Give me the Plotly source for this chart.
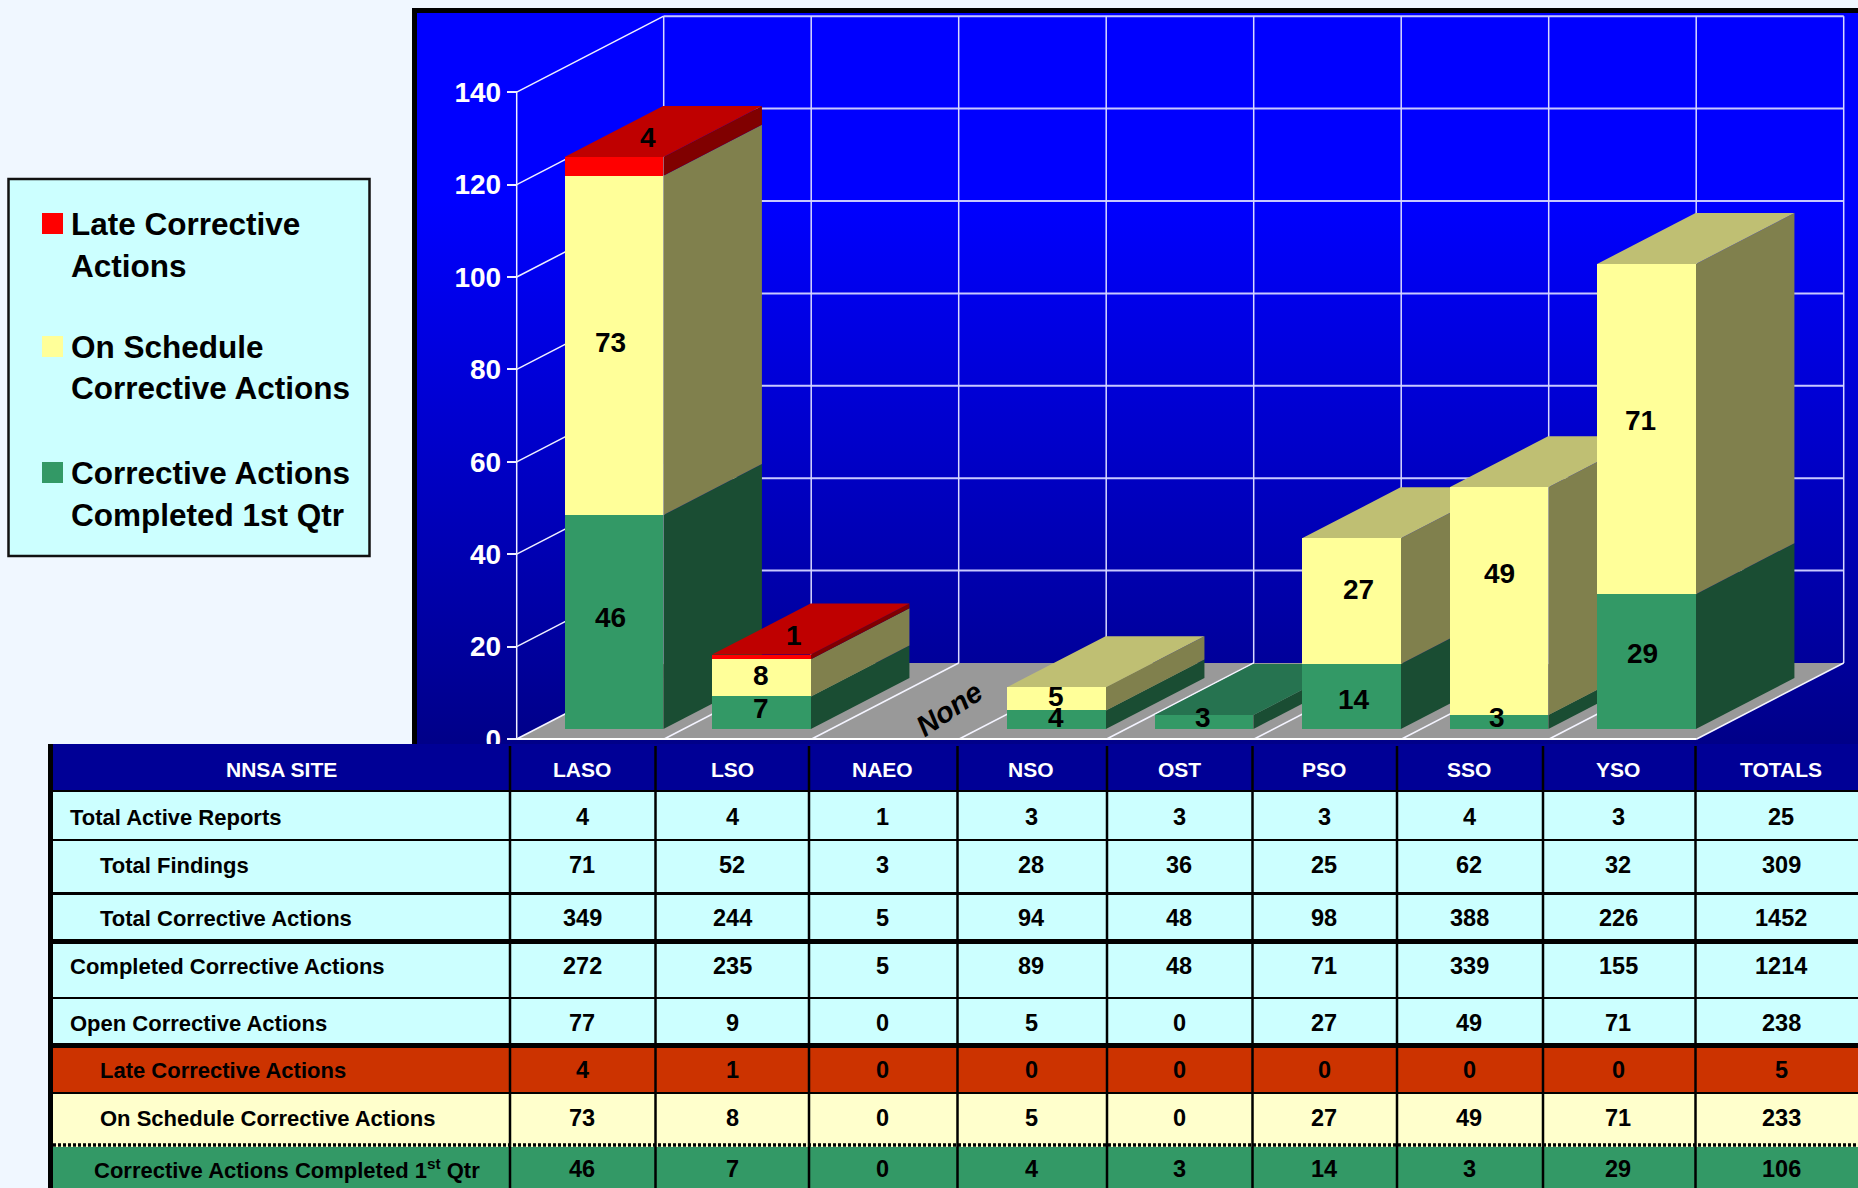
import plotly.graph_objects as go

# ---------- data ----------
SITES = ["LASO", "LSO", "NAEO", "NSO", "OST", "PSO", "SSO", "YSO"]
COMPLETED_Q1 = [46, 7, 0, 4, 3, 14, 3, 29]
ON_SCHEDULE = [73, 8, 0, 5, 0, 27, 49, 71]
LATE = [4, 1, 0, 0, 0, 0, 0, 0]
Y_TICKS = [0, 20, 40, 60, 80, 100, 120, 140]
NO_DATA_LABEL = "None"

TABLE_HEADER = ["NNSA SITE"] + SITES + ["TOTALS"]
ROW_LABELS = [
    "Total Active Reports", "Total Findings", "Total Corrective Actions",
    "Completed Corrective Actions", "Open Corrective Actions",
    "Late Corrective Actions", "On Schedule Corrective Actions",
    "Corrective Actions Completed 1<sup>st</sup> Qtr",
]
ROW_ACTIVE = [4, 4, 1, 3, 3, 3, 4, 3, 25]
ROW_FINDINGS = [71, 52, 3, 28, 36, 25, 62, 32, 309]
ROW_TOTAL_CA = [349, 244, 5, 94, 48, 98, 388, 226, 1452]
ROW_COMPLETED = [272, 235, 5, 89, 48, 71, 339, 155, 1214]
ROW_OPEN = [77, 9, 0, 5, 0, 27, 49, 71, 238]
ROW_LATE = [4, 1, 0, 0, 0, 0, 0, 0, 5]
ROW_ONSCHED = [73, 8, 0, 5, 0, 27, 49, 71, 233]
ROW_Q1 = [46, 7, 0, 4, 3, 14, 3, 29, 106]
LEGEND_LINES = [
    ("Late Corrective", "Actions"),
    ("On Schedule", "Corrective Actions"),
    ("Corrective Actions", "Completed 1st Qtr"),
]

# ---------- page geometry / style ----------
W, H = 1858, 1188
PAGE_BG = "#F0F7FF"
BOLD = "Liberation Sans"
CAT_W = 147.5

# front axis plane (frame)
F_X0, F_Y0, F_S = 590.45, 739.0, 4.62
# plane of the bar fronts
B_X0, B_Y0, B_S = 614.0, 729.0, 4.65
# depth vectors in data units
WALL_DX, WALL_DY = 147.0 / CAT_W, 76.0 / F_S
BAR_DX, BAR_DY = 98.5 / CAT_W, 51.0 / B_S
BAR_W = 0.67

SEG = [  # name, values, front, side, top
    ("Corrective Actions Completed 1st Qtr", COMPLETED_Q1, "#339966", "#1A4D33", "#267350"),
    ("On Schedule Corrective Actions", ON_SCHEDULE, "#FFFF99", "#80804D", "#BFBF73"),
    ("Late Corrective Actions", LATE, "#FF0000", "#800000", "#BF0000"),
]


def xrange_for(x0):
    return [(0 - x0) / CAT_W, (W - x0) / CAT_W]


def yrange_for(y0, s):
    return [(y0 - H) / s, y0 / s]


def fx(px):
    return (px - F_X0) / CAT_W


def fy(py):
    return (F_Y0 - py) / F_S


fig = go.Figure()


def poly(xs, ys, color, xa="x", ya="y", **kw):
    fig.add_trace(go.Scatter(
        x=xs + xs[:1], y=ys + ys[:1], xaxis=xa, yaxis=ya, mode="lines",
        fill="toself", fillcolor=color, line=dict(width=0), hoverinfo="skip",
        showlegend=False, **kw))


def seg_line(xs, ys, color="#D8D8FF", width=1.5):
    fig.add_trace(go.Scatter(
        x=xs, y=ys, mode="lines", line=dict(color=color, width=width),
        hoverinfo="skip", showlegend=False))


# --- blue gradient panel ---
px_l, px_r, py_t, py_b = 417, W, 13, 745
grad_top = 200
frac = (py_b - grad_top) / (py_b - py_t)
poly([fx(px_l), fx(px_r), fx(px_r), fx(px_l)], [fy(py_b), fy(py_b), fy(py_t), fy(py_t)],
     "#0000FF",
     fillgradient=dict(type="vertical",
                       colorscale=[[0, "#000088"], [frac, "#0000FF"], [1, "#0000FF"]]))

# --- floor, walls, grid ---
n = len(SITES)
L, R = -0.5, n - 0.5
vmax = Y_TICKS[-1]
poly([L, R, R + WALL_DX, L + WALL_DX], [0, 0, WALL_DY, WALL_DY], "#999999")
for v in Y_TICKS:
    if v:
        seg_line([L + WALL_DX, R + WALL_DX], [v + WALL_DY, v + WALL_DY], "#C8C8FF", 2)
        seg_line([L, L + WALL_DX], [v, v + WALL_DY], "#F0F0FF", 1.5)
for i in range(n + 1):
    xb = L + i + WALL_DX
    seg_line([xb, xb], [WALL_DY, vmax + WALL_DY], "#D8D8FF", 1.5)
    seg_line([L + i, xb], [0, WALL_DY], "#F4F4FF", 1.5)
seg_line([L, L], [0, vmax], "#F0F0FF", 1.5)
seg_line([L, R], [0, 0], "#FFFFFF", 2)


# --- bar sides and tops (painted left to right) ---
for i in range(n):
    base = 0
    xr = i + BAR_W / 2
    xl = i - BAR_W / 2
    top_colour = None
    for name, vals, front, side, top in SEG:
        v = vals[i]
        if v:
            poly([xr, xr + BAR_DX, xr + BAR_DX, xr],
                 [base, base + BAR_DY, base + v + BAR_DY, base + v],
                 side, xa="x2", ya="y2")
            base += v
            top_colour = top
    if top_colour:
        poly([xl, xr, xr + BAR_DX, xl + BAR_DX],
             [base, base, base + BAR_DY, base + BAR_DY],
             top_colour, xa="x2", ya="y2")

# --- bar fronts ---
for name, vals, front, side, top in SEG:
    fig.add_trace(go.Bar(
        x=SITES, y=vals, name=name, width=BAR_W, xaxis="x3", yaxis="y3",
        marker=dict(color=front, line=dict(width=0)), showlegend=False))

annotations = []
shapes = []


def note(x, y, text, size, color="black", anchor="center", angle=0):
    annotations.append(dict(
        x=x / W, y=1 - y / H, xref="paper", yref="paper", text=text, showarrow=False,
        xanchor=anchor, yanchor="middle", align="left" if anchor == "left" else "center",
        textangle=angle, borderpad=0, borderwidth=0,
        font=dict(family=BOLD, size=size, color=color, weight="bold")))


def box(x0, y0, x1, y1, fill, line=None, lw=0, layer="above"):
    shapes.append(dict(
        type="rect", xref="paper", yref="paper", x0=x0 / W, x1=x1 / W,
        y0=1 - y0 / H, y1=1 - y1 / H, fillcolor=fill, layer=layer,
        line=dict(width=lw, color=line or fill)))


# --- value labels, placed through the bar axes (nudges in pixels) ---
NUDGE = {  # (site index, segment index): (dx px, dy px up)
    (0, 0): (-4, 5), (0, 1): (-4, 3), (1, 0): (-1, 4), (1, 1): (-1, 2),
    (3, 0): (-1, 2), (3, 1): (-1, 2), (4, 0): (-1, 5),
    (5, 0): (2, -3), (5, 1): (7, 12), (6, 0): (-2, 5), (6, 1): (0, 28),
    (7, 0): (-4, 8), (7, 1): (-6, 9),
}
for i in range(n):
    base = 0
    for j, (name, vals, front, side, top) in enumerate(SEG):
        v = vals[i]
        if not v:
            continue
        if j == 2:  # the late count sits on the top face
            xpos, ypos = i + BAR_DX / 2, base + v + BAR_DY / 2
            dx, dy = (-15, -6) if i == 0 else (-17, -6)
        else:
            xpos, ypos = i, base + v / 2
            dx, dy = NUDGE.get((i, j), (0, 0))
        annotations.append(dict(
            x=xpos, y=ypos, xref="x3", yref="y3", text=str(v), showarrow=False,
            xanchor="center", yanchor="middle", xshift=dx, yshift=dy,
            font=dict(family=BOLD, size=28, color="black", weight="bold")))
        base += v
for i, s in enumerate(SITES):
    if COMPLETED_Q1[i] + ON_SCHEDULE[i] + LATE[i] == 0:
        annotations.append(dict(
            x=i, y=0, xref="x3", yref="y3", text=NO_DATA_LABEL, showarrow=False,
            textangle=-34, xanchor="center", yanchor="middle", xshift=40, yshift=20,
            font=dict(family=BOLD, size=29, color="black", weight="bold",
                      style="italic")))

# --- chart panel black frame (beneath the gradient) ---
box(412, 8, W + 5, 750, "#000000", layer="below")

# --- legend box ---
box(8.5, 179, 369.5, 556, "#CCFFFF", "#111111", 2.5)
for (l1, l2), (name, vals, front, side, top), sy in zip(
        LEGEND_LINES, [SEG[2], SEG[1], SEG[0]], [213, 336, 462]):
    box(42, sy, 63, sy + 21, front)
    note(71, sy + 10.5, l1, 31.5, anchor="left")
    note(71, sy + 52.5, l2, 31.5, anchor="left")

# --- table ---
ROWS = [ROW_ACTIVE, ROW_FINDINGS, ROW_TOTAL_CA, ROW_COMPLETED, ROW_OPEN,
        ROW_LATE, ROW_ONSCHED, ROW_Q1]
ROW_TOPS = [792, 841, 895, 944, 999, 1048, 1094, 1147]
ROW_BOTS = [839, 892, 939, 997, 1043, 1092, 1143, 1190]
ROW_TEXT_Y = [817, 865, 918, 966, 1023, 1070, 1118, 1169]
ROW_FILL = ["#CCFFFF"] * 5 + ["#CC3300", "#FFFFCC", "#339966"]
ROW_TEXT_X = [70, 100, 100, 70, 70, 100, 100, 94]
COL_LINES = [510, 655.5, 809, 957.5, 1107, 1252.5, 1397, 1543, 1695.5]
COL_CENTRES = [582, 732, 882, 1031, 1179, 1324, 1469, 1618, 1781]

box(48, 744, W + 5, H + 5, "#000000")           # black under-layer gives the rules
box(53, 744, W + 5, 790, "#000096")             # header
for t, b, f in zip(ROW_TOPS, ROW_BOTS, ROW_FILL):
    box(53, t, W + 5, b, f)
# dotted rule between the last two rows, on a yellow/green ground
box(53, 1143, W + 5, 1147, "#FFFFCC")
shapes.append(dict(type="line", xref="paper", yref="paper", x0=53 / W, x1=1,
                   y0=1 - 1145 / H, y1=1 - 1145 / H, layer="above",
                   line=dict(color="#000000", width=3.5, dash="3px,2px")))
for x in COL_LINES:
    box(x - 1.25, 746, x + 1.25, H + 5, "#000000")

note(281, 769, TABLE_HEADER[0], 21, color="white")
for x, h in zip(COL_CENTRES, TABLE_HEADER[1:]):
    note(x, 769, h, 21, color="white")
for label, vals, ty, tx in zip(ROW_LABELS, ROWS, ROW_TEXT_Y, ROW_TEXT_X):
    note(tx, ty, label, 22, anchor="left")
    for x, v in zip(COL_CENTRES, vals):
        note(x, ty, str(v), 23.5)

hidden = dict(visible=False, fixedrange=True, showgrid=False, zeroline=False)
fig.update_layout(
    width=W, height=H, autosize=False,
    margin=dict(l=0, r=0, t=0, b=0, pad=0),
    paper_bgcolor=PAGE_BG, plot_bgcolor="rgba(0,0,0,0)",
    barmode="stack", showlegend=False, hovermode=False,
    xaxis=dict(domain=[0, 1], range=xrange_for(F_X0), **hidden),
    yaxis=dict(domain=[0, 1], range=yrange_for(F_Y0, F_S), anchor="free",
               position=(F_X0 + L * CAT_W) / W, side="left",
               tickmode="array", tickvals=Y_TICKS, ticks="outside", ticklen=10,
               tickwidth=1.5, tickcolor="#F0F0FF", showgrid=False, zeroline=False,
               showline=False, fixedrange=True,
               tickfont=dict(family=BOLD, size=28, color="white", weight="bold")),
    xaxis2=dict(range=xrange_for(B_X0), overlaying="x", anchor="y2", **hidden),
    yaxis2=dict(range=yrange_for(B_Y0, B_S), overlaying="y", anchor="x2", **hidden),
    xaxis3=dict(range=xrange_for(B_X0), overlaying="x", anchor="y3", type="category",
                categoryorder="array", categoryarray=SITES, **hidden),
    yaxis3=dict(range=yrange_for(B_Y0, B_S), overlaying="y", anchor="x3", **hidden),
    shapes=shapes, annotations=annotations,
)

fig.write_html(
    "out.html",
    config=dict(displayModeBar=False),
    post_script="document.body.style.margin='0';document.body.style.overflow='hidden';"
                f"document.body.style.background='{PAGE_BG}';",
)
